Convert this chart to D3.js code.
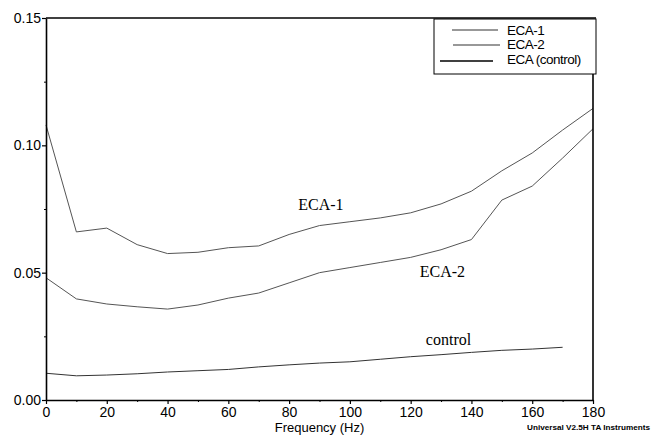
<!DOCTYPE html>
<html>
<head>
<meta charset="utf-8">
<script src="https://cdn.jsdelivr.net/npm/d3@7/dist/d3.min.js"></script>
<style>
  body { margin: 0; background: #fff; }
  svg { display: block; font-family: Arial, "Liberation Sans", sans-serif; }
</style>
</head>
<body>
<svg id="chart" width="656" height="437"></svg>
<script>
// frequency points (Hz)
const freq = [0, 10, 20, 30, 40, 50, 60, 70, 80, 90, 100, 110, 120, 130, 140, 150, 160, 170, 180];
const eca1 = [0.108, 0.066, 0.0675, 0.061, 0.0575, 0.058, 0.0598, 0.0605, 0.065, 0.0685, 0.070, 0.0715, 0.0735, 0.077, 0.082, 0.090, 0.097, 0.106, 0.1145];
const eca2 = [0.048, 0.0397, 0.0377, 0.0366, 0.0357, 0.0373, 0.040, 0.042, 0.046, 0.050, 0.052, 0.054, 0.056, 0.059, 0.063, 0.0785, 0.084, 0.095, 0.1065];
const ctrlFreq = freq.slice(0, 18); // control stops at 170 Hz
const ctrl = [0.0105, 0.0095, 0.0098, 0.0103, 0.011, 0.0115, 0.012, 0.013, 0.0138, 0.0145, 0.015, 0.016, 0.017, 0.0178, 0.0187, 0.0195, 0.020, 0.0207];

const xTicks = [0, 20, 40, 60, 80, 100, 120, 140, 160, 180];
const yTicks = [0.00, 0.05, 0.10, 0.15];

const series = [
  { name: 'ECA-1', xs: freq, ys: eca1, color: '#555', width: 1 },
  { name: 'ECA-2', xs: freq, ys: eca2, color: '#555', width: 1 },
  { name: 'ECA (control)', xs: ctrlFreq, ys: ctrl, color: '#333', width: 1 },
];

const margin = { top: 18, left: 46, right: 63, bottom: 37 };
const width = 656, height = 437;
const svg = d3.select('#chart');

const x = d3.scaleLinear().domain([0, 180]).range([margin.left, width - margin.right]);
const y = d3.scaleLinear().domain([0, 0.15]).range([height - margin.bottom, margin.top]);

// curves
const line = d3.line().x(d => x(d[0])).y(d => y(d[1]));
series.forEach(s => {
  svg.append('path')
    .datum(s.xs.map((f, i) => [f, s.ys[i]]))
    .attr('d', line)
    .attr('fill', 'none')
    .attr('stroke', s.color)
    .attr('stroke-width', s.width);
});

// axes
const xAxis = svg.append('g')
  .attr('transform', `translate(0,${y(0)})`)
  .call(d3.axisBottom(x).tickValues(xTicks).tickFormat(d3.format('d')).tickSize(4).tickSizeOuter(0));
svg.append('g')
  .attr('transform', `translate(0,${y(0)})`)
  .call(d3.axisBottom(x).tickValues(d3.range(10, 180, 20)).tickFormat('').tickSize(2).tickSizeOuter(0))
  .select('.domain').remove();

const yAxis = svg.append('g')
  .attr('transform', `translate(${x(0)},0)`)
  .call(d3.axisLeft(y).tickValues(yTicks).tickFormat(d3.format('.2f')).tickSize(4).tickSizeOuter(0));
svg.append('g')
  .attr('transform', `translate(${x(0)},0)`)
  .call(d3.axisLeft(y).tickValues([0.025, 0.075, 0.125]).tickFormat('').tickSize(2).tickSizeOuter(0))
  .select('.domain').remove();

[xAxis, yAxis].forEach(g => {
  g.select('.domain').attr('stroke-width', 1.6);
  g.selectAll('.tick line').attr('stroke-width', 1.2);
  g.selectAll('.tick text').attr('font-size', 14).attr('fill', '#000');
});
xAxis.selectAll('.tick text').attr('dy', '0.72em').attr('y', 7);
yAxis.selectAll('.tick text').attr('x', -5);

// legend box
const lg = { x0: 434, y0: 19, x1: 596, y1: 74 };

// top frame and right frame
svg.append('line')
  .attr('x1', x(0)).attr('x2', lg.x1).attr('y1', y(0.15)).attr('y2', y(0.15))
  .attr('stroke', '#000').attr('stroke-width', 1.4);
svg.append('line')
  .attr('x1', x(180)).attr('x2', x(180)).attr('y1', lg.y1).attr('y2', y(0))
  .attr('stroke', '#000').attr('stroke-width', 1.6);

svg.append('rect')
  .attr('x', lg.x0).attr('y', lg.y0)
  .attr('width', lg.x1 - lg.x0).attr('height', lg.y1 - lg.y0)
  .attr('fill', '#fff').attr('stroke', '#000').attr('stroke-width', 1);

const legendRows = [
  { x1: 452, x2: 498, ly: 30, ty: 35 },
  { x1: 453, x2: 500, ly: 45, ty: 49 },
  { x1: 440, x2: 493, ly: 61, ty: 64 },
];
series.forEach((s, i) => {
  const r = legendRows[i];
  svg.append('line')
    .attr('x1', r.x1).attr('x2', r.x2).attr('y1', r.ly).attr('y2', r.ly)
    .attr('stroke', i === 2 ? '#000' : '#333').attr('stroke-width', i === 2 ? 1.6 : 1.1);
  svg.append('text')
    .attr('x', 507).attr('y', r.ty)
    .attr('font-size', 13.5).attr('letter-spacing', -0.5)
    .text(s.name);
});

// in-plot annotations
const notes = [
  { text: 'ECA-1', f: 83, v: 0.0745 },
  { text: 'ECA-2', f: 123, v: 0.0483 },
  { text: 'control', f: 125, v: 0.0216 },
];
notes.forEach(n => {
  svg.append('text')
    .attr('x', x(n.f)).attr('y', y(n.v))
    .attr('font-family', '"Liberation Serif", "DejaVu Serif", serif')
    .attr('font-size', 16)
    .text(n.text);
});

// axis title
svg.append('text')
  .attr('x', x(90)).attr('y', 432)
  .attr('text-anchor', 'middle')
  .attr('font-size', 13)
  .text('Frequency (Hz)');

svg.append('text')
  .attr('x', 527).attr('y', 430)
  .attr('font-size', 8).attr('font-weight', 'bold')
  .attr('textLength', 123).attr('lengthAdjust', 'spacingAndGlyphs')
  .text('Universal V2.5H TA Instruments');
</script>
</body>
</html>
